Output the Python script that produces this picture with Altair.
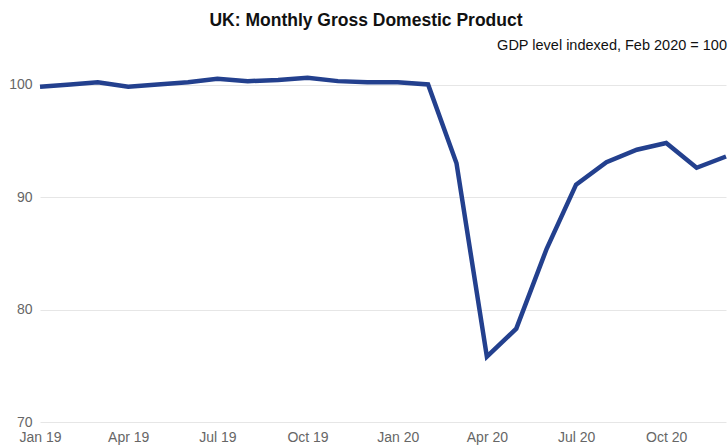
import altair as alt
import pandas as pd

months = ["2019-01", "2019-02", "2019-03", "2019-04", "2019-05", "2019-06",
          "2019-07", "2019-08", "2019-09", "2019-10", "2019-11", "2019-12",
          "2020-01", "2020-02", "2020-03", "2020-04", "2020-05", "2020-06",
          "2020-07", "2020-08", "2020-09", "2020-10", "2020-11", "2020-12"]
gdp_index = [99.8, 100.0, 100.2, 99.8, 100.0, 100.2,
             100.5, 100.3, 100.4, 100.6, 100.3, 100.2,
             100.2, 100.0, 93.0, 75.8, 78.3, 85.4,
             91.1, 93.1, 94.2, 94.8, 92.6, 93.6]
y_ticks = [70, 80, 90, 100]

df = pd.DataFrame({"month": months, "gdp": gdp_index})

FONT = "Liberation Sans"

line = alt.Chart(df).mark_line(color="#23408e", strokeWidth=4.5, strokeJoin="miter").encode(
    x=alt.X("month:T",
            scale=alt.Scale(nice=False),
            axis=alt.Axis(title=None, format="%b %y", grid=False, domain=False,
                          ticks=False, labelPadding=8, labelFontSize=14,
                          labelColor="#666666", labelFont=FONT, labelFlush=False,
                          tickCount={"interval": "month", "step": 3})),
    y=alt.Y("gdp:Q",
            scale=alt.Scale(domain=[70, 102], nice=False, zero=False),
            axis=alt.Axis(title=None, values=y_ticks, grid=True, gridColor="#e6e6e6",
                          domain=False, ticks=False, labelPadding=8, labelFontSize=14,
                          labelColor="#666666", labelFont=FONT)),
)

subtitle = alt.Chart(pd.DataFrame({"t": ["GDP level indexed, Feb 2020 = 100"]})).mark_text(
    align="right", baseline="middle", fontSize=14.5, font=FONT, color="#111111"
).encode(text="t:N", x=alt.value(687), y=alt.value(-16))

chart = alt.layer(line, subtitle).properties(
    width=686, height=360,
    title=alt.TitleParams("UK: Monthly Gross Domestic Product", anchor="middle",
                          font=FONT, fontSize=17.5, fontWeight="bold", color="#111111",
                          offset=9, dx=-17),
    autosize=alt.AutoSizeParams(type="none"),
    padding={"left": 40, "top": 62, "right": 2, "bottom": 24},
).configure_view(stroke=None)

chart.save("out.html", embed_options={"renderer": "svg", "actions": False})
